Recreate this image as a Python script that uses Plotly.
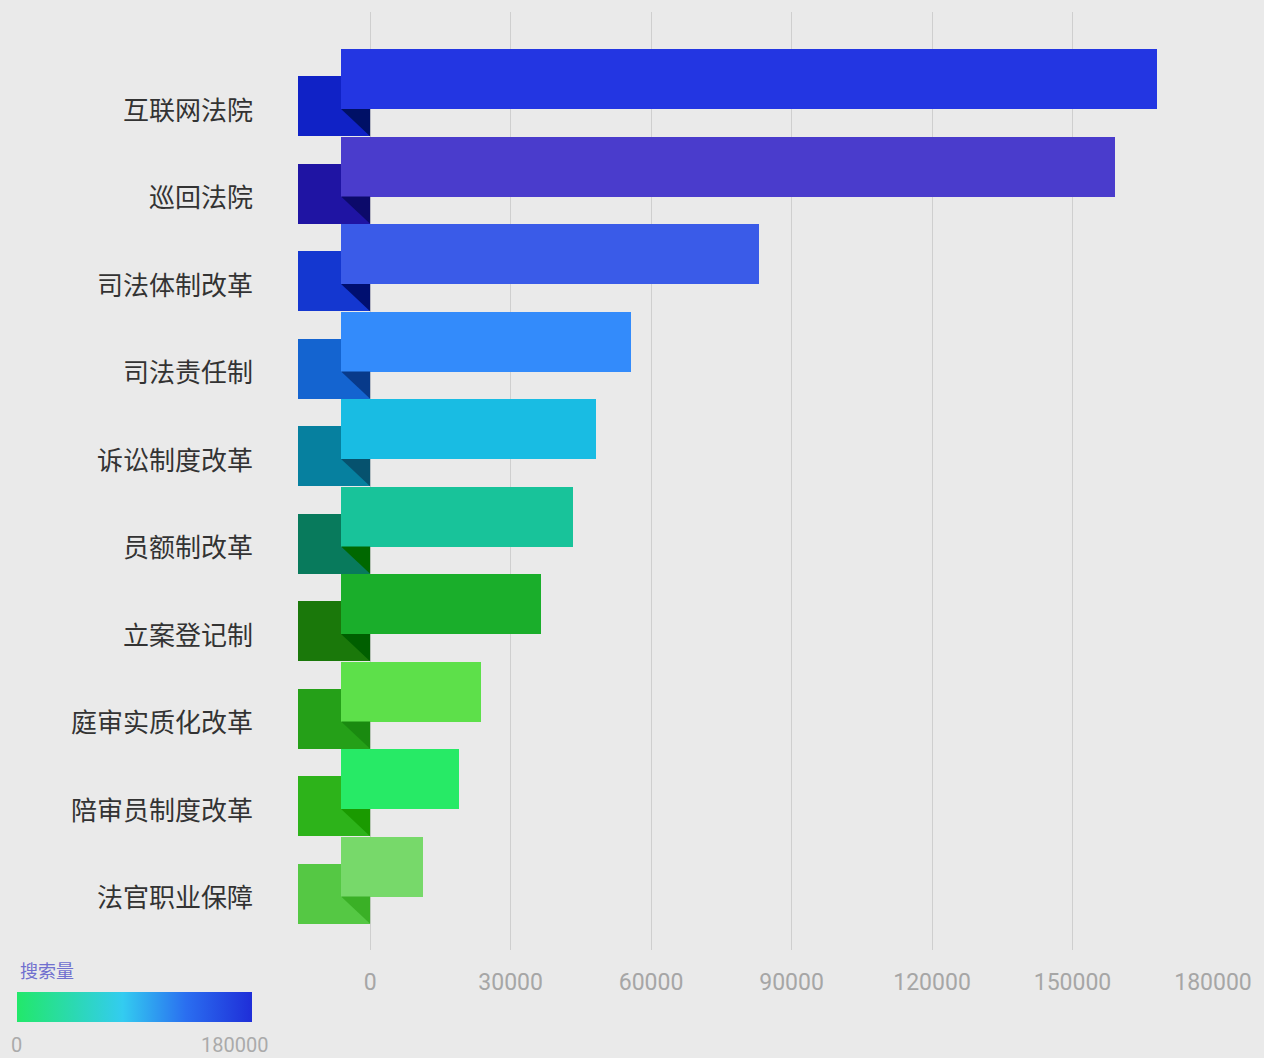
import plotly.graph_objects as go

categories = ["互联网法院", "巡回法院", "司法体制改革", "司法责任制", "诉讼制度改革",
              "员额制改革", "立案登记制", "庭审实质化改革", "陪审员制度改革", "法官职业保障"]
values = [168000, 159000, 83000, 55700, 48300, 43300, 36500, 23700, 19000, 11300]

main_colors = ["#2336e2", "#4a3ccc", "#3a5be8", "#338bfb", "#19bce3",
               "#18c39a", "#1aae2b", "#5de04a", "#27ea66", "#77d96a"]
fold_colors = ["#1022c6", "#1f14a3", "#1437d0", "#1464d0", "#06809f",
               "#087a5c", "#1a780a", "#25a018", "#2db31a", "#55c844"]
shadow_colors = ["#001066", "#0c0a6a", "#000f70", "#083a8a", "#06526e",
                 "#006800", "#005f00", "#1a8a10", "#1a9a00", "#3ab026"]

x_ticks = [0, 30000, 60000, 90000, 120000, 150000, 180000]
scale_min, scale_max = 0, 180000
scale_title = "搜索量"

MAIN_BASE = -6200
FOLD_BASE = -15400
BAR_W = 0.686
FOLD_OFF = 0.31

rows = list(range(len(categories)))

fig = go.Figure()

# fold rectangles (behind)
fig.add_trace(go.Bar(
    y=[r + FOLD_OFF for r in rows],
    x=[0 - FOLD_BASE for _ in rows],
    base=[FOLD_BASE for _ in rows],
    orientation="h", width=BAR_W,
    marker=dict(color=fold_colors, line=dict(width=0)),
    hoverinfo="skip", showlegend=False,
))

# main bars
fig.add_trace(go.Bar(
    y=rows,
    x=[v - MAIN_BASE for v in values],
    base=[MAIN_BASE for _ in rows],
    orientation="h", width=BAR_W,
    marker=dict(color=main_colors, line=dict(width=0)),
    customdata=values,
    hovertemplate="%{customdata}<extra></extra>",
    showlegend=False,
))

# shadow triangles
shapes = []
for r in rows:
    y_top = r + BAR_W / 2
    y_bot = r + FOLD_OFF + BAR_W / 2
    shapes.append(dict(
        type="path", xref="x", yref="y",
        path=f"M {MAIN_BASE},{y_top} L 0,{y_top} L 0,{y_bot} Z",
        fillcolor=shadow_colors[r], line=dict(width=0), layer="above",
    ))

# colorbar dummy
fig.add_trace(go.Scatter(
    x=[None, None], y=[None, None], mode="markers",
    marker=dict(
        color=[scale_min, scale_max], cmin=scale_min, cmax=scale_max,
        colorscale=[[0, "#22e86a"], [0.45, "#33ccf0"], [0.72, "#2a6ef0"], [1, "#1f2ed8"]],
        showscale=True,
        colorbar=dict(
            orientation="h", thickness=30, len=235, lenmode="pixels",
            xref="container", yref="container",
            x=23 / 1264, xanchor="left",
            y=(1058 - 1022) / 1058, yanchor="bottom",
            xpad=0, ypad=0, outlinewidth=0,
            showticklabels=False, ticks="",
        ),
    ),
    hoverinfo="skip", showlegend=False,
))

PL, PR, PT, PB = 298, 1213, 12, 950
def px_x(p):
    return (p - PL) / (PR - PL)
def px_y(p):
    return (PB - p) / (PB - PT)

annotations = [
    dict(text=scale_title, x=px_x(18), y=px_y(970), xref="paper", yref="paper",
         xanchor="left", yanchor="middle", showarrow=False,
         font=dict(family="Noto Sans CJK SC", size=18, color="#7070cf")),
    dict(text=str(scale_min), x=px_x(16), y=px_y(1045), xref="paper", yref="paper",
         xanchor="center", yanchor="middle", showarrow=False,
         font=dict(family="Roboto", size=20, color="#aaaaaa")),
    dict(text=str(scale_max), x=px_x(234), y=px_y(1045), xref="paper", yref="paper",
         xanchor="center", yanchor="middle", showarrow=False,
         font=dict(family="Roboto", size=20, color="#aaaaaa")),
]

fig.update_layout(
    width=1264, height=1058,
    margin=dict(l=PL, r=1264 - PR, t=PT, b=1058 - PB, autoexpand=False),
    paper_bgcolor="#eaeaea", plot_bgcolor="#eaeaea",
    barmode="overlay", bargap=0,
    shapes=shapes, annotations=annotations,
    xaxis=dict(
        range=[FOLD_BASE, 180000], tickvals=x_ticks,
        ticktext=[str(v) for v in x_ticks],
        showgrid=True, gridcolor="#cfcfcf", gridwidth=1,
        zeroline=False, showline=False, ticks="",
        ticklabelstandoff=16,
        tickfont=dict(family="Roboto", size=23, color="#a6a6a6"),
    ),
    yaxis=dict(
        range=[9.954, -0.766],
        tickvals=[r + 0.36 for r in rows], ticktext=categories,
        showgrid=False, zeroline=False, showline=False, ticks="",
        ticklabelstandoff=44,
        tickfont=dict(family="Noto Sans CJK SC", size=26, color="#333333"),
    ),
)

fig.write_html(
    "out.html",
    config={"displayModeBar": False},
    post_script="document.body.style.margin='0';document.body.style.background='#eaeaea';document.documentElement.style.overflow='hidden';",
)
